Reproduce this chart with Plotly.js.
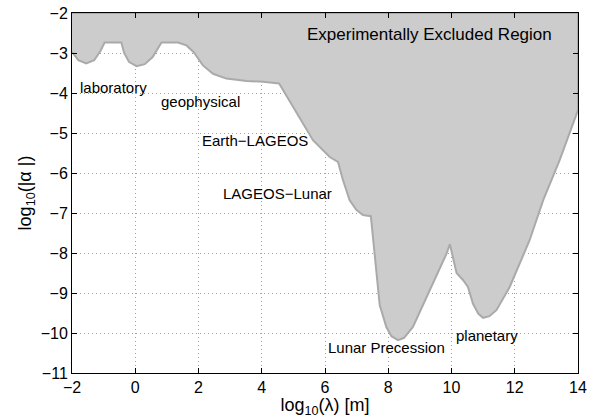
<!DOCTYPE html>
<html><head><meta charset="utf-8">
<script src="https://cdn.plot.ly/plotly-3.0.1.min.js"></script>
<style>html,body{margin:0;padding:0;background:#fff;}</style>
</head><body>
<div id="chart" style="width:589px;height:418px;"></div>
<script>
// Boundary of the experimentally excluded region: log10(lambda [m]) vs log10(|alpha|)
const logLambda = [-2, -1.8, -1.55, -1.3, -1.1, -0.97, -0.44, -0.35, -0.2, 0.04, 0.3, 0.55, 0.83, 1.35, 1.62, 1.85, 2.14, 2.46, 2.88, 3.52, 4.04, 4.55, 4.88, 5.2, 5.62, 6.15, 6.41, 6.57, 6.78, 6.99, 7.2, 7.45, 7.57, 7.73, 7.94, 8.1, 8.31, 8.5, 8.78, 9.31, 9.84, 9.95, 10.05, 10.16, 10.37, 10.52, 10.68, 10.85, 11.0, 11.2, 11.42, 11.84, 12.47, 12.9, 13.42, 14];
const logAlpha  = [-2.97, -3.18, -3.26, -3.18, -2.95, -2.74, -2.74, -3.0, -3.22, -3.33, -3.28, -3.1, -2.74, -2.74, -2.81, -2.98, -3.31, -3.52, -3.64, -3.70, -3.72, -3.76, -4.2, -4.62, -5.18, -5.60, -5.72, -6.18, -6.68, -6.92, -7.05, -7.08, -8.1, -9.3, -9.85, -10.08, -10.18, -10.12, -9.85, -8.92, -8.02, -7.78, -8.1, -8.5, -8.68, -8.85, -9.27, -9.52, -9.62, -9.58, -9.43, -8.85, -7.68, -6.68, -5.68, -4.43];
const topAlpha = -2;

const labelText = ["Experimentally Excluded Region", "laboratory", "geophysical", "Earth\u2212LAGEOS", "LAGEOS\u2212Lunar", "Lunar Precession", "planetary"];
const labelX = [9.31, -0.70, 2.06, 3.78, 4.5, 7.93, 11.11];
const labelY = [-2.53, -3.86, -4.22, -5.18, -6.52, -10.35, -10.06];
const labelSize = [17, 15, 15, 15, 15, 15, 15];

const polyX = logLambda.concat([logLambda[logLambda.length - 1], logLambda[0]]);
const polyY = logAlpha.concat([topAlpha, topAlpha]);

const FONT = "Liberation Sans, Arial, Helvetica, sans-serif";

const trace = {
  x: polyX, y: polyY, type: "scatter", mode: "lines",
  fill: "toself", fillcolor: "#cccccc",
  line: {color: "#aaaaaa", width: 2},
  hoverinfo: "skip", showlegend: false
};

const annotations = labelText.map((t, i) => ({
  x: labelX[i], y: labelY[i], xref: "x", yref: "y", text: t,
  showarrow: false, font: {family: FONT, size: labelSize[i], color: "#000"},
  xanchor: "center", yanchor: "middle"
}));

const axisCommon = {
  showline: true, linecolor: "#000", linewidth: 1, mirror: "ticks",
  ticks: "inside", ticklen: 5, tickcolor: "#000",
  showgrid: true, gridcolor: "#a0a0a0", griddash: "1px,3px", gridwidth: 1,
  zeroline: false, tickfont: {family: FONT, size: 16, color: "#000"}
};

const layout = {
  width: 589, height: 418,
  margin: {l: 72, r: 11, t: 13, b: 45},
  paper_bgcolor: "#fff", plot_bgcolor: "#fff",
  font: {family: FONT, color: "#000"},
  showlegend: false,
  xaxis: Object.assign({}, axisCommon, {
    range: [-2, 14], dtick: 2, tick0: -2,
    title: {text: "log<sub>10</sub>(\u03bb) [m]", font: {family: FONT, size: 18}, standoff: 0}
  }),
  yaxis: Object.assign({}, axisCommon, {
    range: [-11, -2], dtick: 1, tick0: -11,
    title: {text: "log<sub>10</sub>(|\u03b1 |)", font: {family: FONT, size: 18}, standoff: 4}
  }),
  annotations: annotations
};

Plotly.newPlot("chart", [trace], layout, {staticPlot: true, displayModeBar: false});
</script>
</body></html>
